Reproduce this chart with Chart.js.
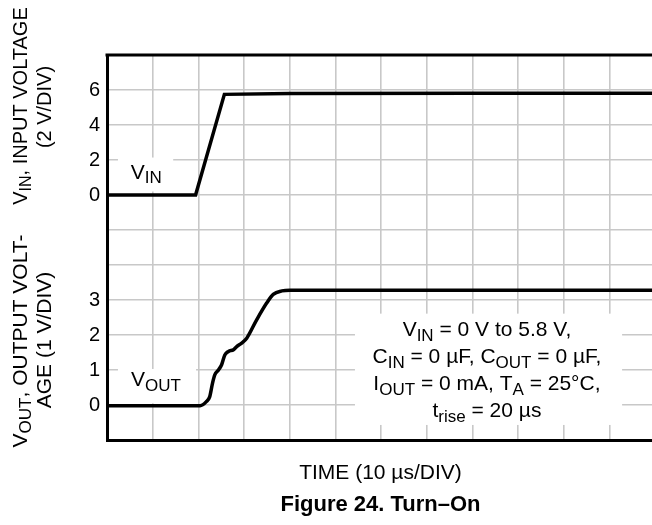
<!DOCTYPE html>
<html lang="en">
<head>
    <meta charset="UTF-8">
    <title>Figure 24. Turn-On</title>
    <script src="https://cdn.jsdelivr.net/npm/chart.js"></script>
    <style>
        body {
            margin: 0;
            padding: 0;
            background: #ffffff;
        }
        #wrap {
            width: 652px;
            height: 525px;
            overflow: hidden;
        }
    </style>
</head>
<body>
    <div id="wrap"><canvas id="turnOn" width="652" height="525"></canvas></div>

    <script>
        // time in us, voltages in V
        const vinTime   = [0, 19.4, 25.7, 40, 80, 119.4];
        const vinVolts  = [0, 0, 5.75, 5.8, 5.82, 5.82];
        const voutTime  = [0, 20.4, 21.7, 22.5, 23.1, 23.6, 24.4, 25.1, 25.8, 26.6, 27.7, 28.4, 29.5, 30.6, 32.8, 35.0, 36.4, 38.3, 40.1, 119.4];
        const voutVolts = [-0.02, -0.02, 0.09, 0.24, 0.62, 0.86, 1.0, 1.15, 1.43, 1.53, 1.58, 1.67, 1.77, 1.91, 2.44, 2.92, 3.16, 3.26, 3.28, 3.28];

        // tick labels shown on the left
        const vinTicks  = [0, 2, 4, 6];
        const voutTicks = [0, 1, 2, 3];

        // screen ranges: 11 divisions high, 2 V/div for VIN, 1 V/div for VOUT
        const VIN_MIN = -14, VIN_MAX = 8;
        const VOUT_MIN = -1, VOUT_MAX = 10;
        const T_MAX = 119.35;

        const FONT = '"Liberation Sans", Arial, Helvetica, sans-serif';

        // draws text with _{sub} parts as subscripts
        function rich(c, str, x, y, size, align, bold) {
            const parts = str.split(/_\{([^}]*)\}/).map((t, i) => [t, i % 2 === 1]);
            const subSize = Math.round(size * 0.8);
            const weight = bold ? 'bold ' : '';
            let w = 0;
            parts.forEach(p => {
                c.font = weight + (p[1] ? subSize : size) + 'px ' + FONT;
                w += c.measureText(p[0]).width;
            });
            let cx = align === 'center' ? x - w / 2 : x;
            c.textAlign = 'left';
            c.textBaseline = 'alphabetic';
            parts.forEach(p => {
                c.font = weight + (p[1] ? subSize : size) + 'px ' + FONT;
                c.fillText(p[0], cx, p[1] ? y + size * 0.2 : y);
                cx += c.measureText(p[0]).width;
            });
        }

        const turnOnText = {
            id: 'turnOnText',
            beforeDatasetsDraw(chart) {
                const c = chart.ctx, a = chart.chartArea;
                const sx = chart.scales.x, yi = chart.scales.yIn, yo = chart.scales.yOut;
                c.save();
                // top frame line
                c.strokeStyle = '#000';
                c.lineWidth = 3;
                c.beginPath();
                c.moveTo(a.left - 1.5, a.top);
                c.lineTo(a.right, a.top);
                c.stroke();

                // white boxes behind the labels
                c.fillStyle = '#fff';
                const box = (t0, t1, s, v0, v1) => {
                    const x0 = sx.getPixelForValue(t0), x1 = sx.getPixelForValue(t1);
                    const y0 = s.getPixelForValue(v1), y1 = s.getPixelForValue(v0);
                    c.fillRect(x0, y0, x1 - x0, y1 - y0);
                };
                box(2.4, 14.5, yi, 0.2, 2.14);
                box(2.4, 19.5, yo, 0.05, 1.03);
                box(54.3, 112.8, yo, -0.57, 2.61);
                c.restore();
            },
            afterDatasetsDraw(chart) {
                const c = chart.ctx;
                const sx = chart.scales.x, yi = chart.scales.yIn, yo = chart.scales.yOut;
                c.save();
                c.fillStyle = '#000';
                rich(c, 'V_{IN}', sx.getPixelForValue(5.2), yi.getPixelForValue(0.92), 21, 'left');
                rich(c, 'V_{OUT}', sx.getPixelForValue(5.25), yo.getPixelForValue(0.53), 21, 'left');

                const notes = [
                    'V_{IN} = 0 V to 5.8 V,',
                    'C_{IN} = 0 \u00b5F, C_{OUT} = 0 \u00b5F,',
                    'I_{OUT} = 0 mA, T_{A} = 25\u00b0C,',
                    't_{rise} = 20 \u00b5s'
                ];
                const nx = sx.getPixelForValue(83.2);
                const ny = yo.getPixelForValue(1.96);
                notes.forEach((n, i) => rich(c, n, nx, ny + i * 27, 21, 'center'));
                c.restore();
            },
            afterDraw(chart) {
                const c = chart.ctx, a = chart.chartArea;
                c.save();
                c.fillStyle = '#000';
                const vtext = (str, bx, cy, size) => {
                    c.save();
                    c.translate(bx, cy);
                    c.rotate(-Math.PI / 2);
                    rich(c, str, 0, 0, size, 'center');
                    c.restore();
                };
                vtext('V_{IN}, INPUT VOLTAGE', 27, 106, 20);
                vtext('(2 V/DIV)', 51, 107, 20);
                vtext('V_{OUT}, OUTPUT VOLT-', 27, 341, 21);
                vtext('AGE (1 V/DIV)', 51, 340, 21);

                const mid = (a.left + a.right) / 2 + 1;
                rich(c, 'TIME (10 \u00b5s/DIV)', mid, 479, 21, 'center');
                rich(c, 'Figure 24. Turn\u2013On', mid, 511, 22, 'center', true);
                c.restore();
            }
        };

        const ctx = document.getElementById('turnOn').getContext('2d');
        const turnOnChart = new Chart(ctx, {
            type: 'line',
            data: {
                datasets: [{
                    label: 'VIN',
                    data: vinTime.map((t, i) => ({ x: t, y: vinVolts[i] })),
                    yAxisID: 'yIn',
                    borderColor: '#000',
                    borderWidth: 3.5,
                    pointRadius: 0,
                    tension: 0
                }, {
                    label: 'VOUT',
                    data: voutTime.map((t, i) => ({ x: t, y: voutVolts[i] })),
                    yAxisID: 'yOut',
                    borderColor: '#000',
                    borderWidth: 3.5,
                    pointRadius: 0,
                    cubicInterpolationMode: 'monotone'
                }]
            },
            options: {
                responsive: false,
                animation: false,
                layout: { padding: { top: 55, left: 0, right: 0, bottom: 0 } },
                plugins: {
                    legend: { display: false },
                    tooltip: { enabled: false }
                },
                scales: {
                    x: {
                        type: 'linear',
                        min: 0,
                        max: T_MAX,
                        ticks: { stepSize: 10, display: false, includeBounds: false },
                        grid: { color: '#c8c8c8', lineWidth: 1.6, drawTicks: false },
                        border: { color: '#000', width: 3 },
                        afterFit: s => { s.height = 85; }
                    },
                    yOut: {
                        type: 'linear',
                        position: 'left',
                        min: VOUT_MIN,
                        max: VOUT_MAX,
                        ticks: {
                            stepSize: 1,
                            padding: 7,
                            color: '#000',
                            font: { size: 20, family: FONT },
                            callback: v => {
                                if (voutTicks.includes(v)) return String(v);
                                // same height on the VIN scale
                                const vin = VIN_MIN + (v - VOUT_MIN) / (VOUT_MAX - VOUT_MIN) * (VIN_MAX - VIN_MIN);
                                const r = Math.round(vin * 100) / 100;
                                return vinTicks.includes(r) ? String(r) : '';
                            }
                        },
                        grid: { color: '#c8c8c8', lineWidth: 1.6, drawTicks: false },
                        border: { color: '#000', width: 3 },
                        afterFit: s => { s.width = 107; }
                    },
                    yIn: {
                        type: 'linear',
                        display: false,
                        min: VIN_MIN,
                        max: VIN_MAX
                    }
                }
            },
            plugins: [turnOnText]
        });
    </script>
</body>
</html>
